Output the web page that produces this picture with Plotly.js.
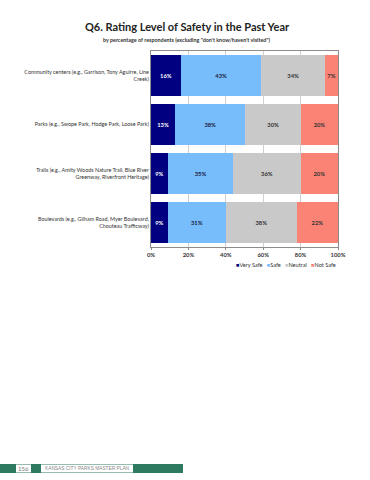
<!DOCTYPE html>
<html><head><meta charset="utf-8">
<script src="https://cdn.plot.ly/plotly-3.0.1.min.js"></script>
<style>html,body{margin:0;padding:0;background:#fff}#chart{width:370px;height:480px}</style>
</head><body><div id="chart"></div>
<script>
var categories = [
  "Community centers (e.g., Garrison, Tony Aguirre, Line<br>Creek)",
  "Parks (e.g., Swope Park, Hodge Park, Loose Park)",
  "Trails (e.g., Amity Woods Nature Trail, Blue River<br>Greenway, Riverfront Heritage)",
  "Boulevards (e.g., Gilham Road, Myer Boulevard,<br>Chouteau Trafficway)"
];
var seriesNames = ["Very Safe", "Safe", "Neutral", "Not Safe"];
var verySafe = [16, 13, 9, 9];
var safe = [43, 38, 35, 31];
var neutral = [34, 30, 36, 38];
var notSafe = [7, 20, 20, 22];
var tickVals = [0, 20, 40, 60, 80, 100];
var tickText = ["0%", "20%", "40%", "60%", "80%", "100%"];

var colors = ["#000080", "#78bdfb", "#c9c9c9", "#fb8376"];
var textColors = ["#ffffff", "#1a1a40", "#333333", "#333333"];
var allSeries = [verySafe, safe, neutral, notSafe];
var F = "Lato, Liberation Sans, Arial, sans-serif";

var traces = allSeries.map(function(vals, i){
  return {
    type: "bar", orientation: "h",
    name: seriesNames[i],
    x: vals, y: categories,
    text: vals.map(function(v){return v + "%";}),
    textposition: "inside", insidetextanchor: "middle", textangle: 0,
    constraintext: "none",
    textfont: {family: F, size: 5.8, color: textColors[i], weight: "bold"},
    marker: {color: colors[i], line: {width: 0}},
    hoverinfo: "skip", showlegend: false
  };
});

// plot area pixel geometry for paper conversions
var L = 151, R = 338, T = 51, B = 247;
function px(x){ return (x - L) / (R - L); }
function py(y){ return (B - y) / (B - T); }

// custom legend text built from series names and colours
var legendText = seriesNames.map(function(n, i){
  return '<span style="color:' + colors[i] + '">■</span>' + n;
}).join('\u00a0\u00a0\u00a0');

var layout = {
  width: 370, height: 480,
  margin: {l: L, r: 370 - R, t: T, b: 480 - B, pad: 0},
  paper_bgcolor: "#ffffff", plot_bgcolor: "#ffffff",
  barmode: "stack", barnorm: "percent", bargap: 0.16,
  showlegend: false,
  xaxis: {range: [0, 100], tickvals: tickVals, ticktext: tickText,
          tickfont: {family: F, size: 5.8, color: "#333", weight: "bold"},
          showgrid: true, gridcolor: "#d0d0d0", gridwidth: 1,
          showline: true, linecolor: "#8c8c8c", mirror: true, zeroline: false,
          ticks: "outside", ticklen: 2, tickcolor: "#8c8c8c", fixedrange: true},
  yaxis: {autorange: "reversed", tickfont: {family: F, size: 5.4, color: "#333"},
          showline: true, linecolor: "#8c8c8c", mirror: true, ticks: "", showgrid: false,
          fixedrange: true},
  title: {text: "<b>Q6. Rating Level of Safety in the Past Year</b>",
          font: {family: F, size: 11, color: "#222"}, x: 187/370, xanchor: "center",
          y: 1 - 27/480, yanchor: "middle", xref: "container", yref: "container"},
  annotations: [
    {text: "<b>by percentage of respondents (excluding \"don't know/haven't visited\")</b>",
     xref: "paper", yref: "paper", x: px(187), y: py(40), xanchor: "center", yanchor: "middle",
     showarrow: false, font: {family: F, size: 5.4, color: "#333"}},
    {text: legendText, xref: "paper", yref: "paper", x: 1, y: py(264), xanchor: "right",
     yanchor: "middle", showarrow: false, font: {family: F, size: 5.6, color: "#333"}},
    {text: "156", xref: "paper", yref: "paper", x: px(23.5), y: py(468.5), xanchor: "center",
     yanchor: "middle", showarrow: false, font: {family: F, size: 6, color: "#777"}},
    {text: "KANSAS CITY PARKS MASTER PLAN", xref: "paper", yref: "paper", x: px(87), y: py(468.5),
     xanchor: "center", yanchor: "middle", showarrow: false,
     font: {family: "Liberation Sans, Arial, sans-serif", size: 4.8, color: "#888"}}
  ],
  shapes: [
    {type: "rect", xref: "paper", yref: "paper", x0: px(0), x1: px(183), y0: py(464), y1: py(473),
     fillcolor: "#2d7a60", line: {width: 0}, layer: "above"},
    {type: "rect", xref: "paper", yref: "paper", x0: px(16), x1: px(31), y0: py(464.5), y1: py(472.5),
     fillcolor: "#ffffff", line: {width: 0}, layer: "above"},
    {type: "rect", xref: "paper", yref: "paper", x0: px(41), x1: px(133), y0: py(464.5), y1: py(472.5),
     fillcolor: "#ffffff", line: {width: 0}, layer: "above"}
  ]
};

Plotly.newPlot("chart", traces, layout, {staticPlot: true, displayModeBar: false});
</script>
</body></html>
